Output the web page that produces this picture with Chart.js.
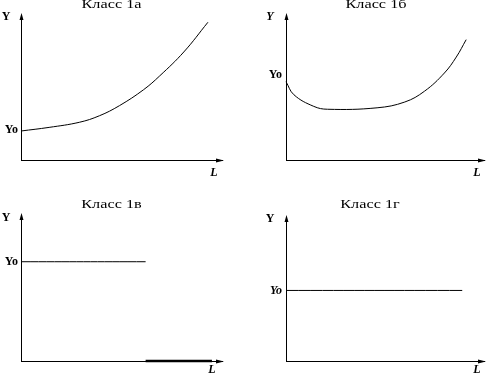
<!DOCTYPE html>
<html>
<head>
<meta charset="utf-8">
<script src="https://cdn.jsdelivr.net/npm/chart.js"></script>
<style>
  body { margin: 0; background: #fff; }
  #wrap { position: relative; width: 488px; height: 377px; }
  #wrap canvas { position: absolute; }
</style>
</head>
<body>
<div id="wrap">
  <canvas id="c1a" width="244" height="188" style="left:0;top:0"></canvas>
  <canvas id="c1b" width="244" height="188" style="left:244px;top:0"></canvas>
  <canvas id="c1v" width="244" height="188" style="left:0;top:188px"></canvas>
  <canvas id="c1g" width="244" height="188" style="left:244px;top:188px"></canvas>
</div>
<script>
// ======== Data (axes 0..100) ========
const titles = ["Класс 1а", "Класс 1б", "Класс 1в", "Класс 1г"];
const axisY = "Y";
const axisX = "L";
const y0Label = "Yo";

const x1a = [0, 14, 29, 39, 49, 61, 69, 81, 93];
const y1a = [20, 22.5, 26, 30.5, 37.5, 48.5, 58, 74.5, 95];

const x1b = [0, 4, 14, 21, 46, 60, 70, 80, 86, 91];
const y1b = [54, 45, 37, 35, 36, 40, 47.5, 60, 71, 83];

const x1v = [0, 62];
const y1v = [68, 68];
const x1vZero = [62, 95];
const y1vZero = [0, 0];

const x1g = [0, 89];
const y1g = [49, 49];

// Y0 level per panel
const y0Values = [21, 59, 68, 49];

const pts = (xs, ys) => xs.map((x, i) => ({ x, y: ys[i] }));

// ======== Arrows + axis labels + title ========
const sketchPlugin = {
  id: "sketch",
  afterDraw(chart, args, o) {
    const { ctx, chartArea: a, scales } = chart;
    ctx.save();
    ctx.fillStyle = "#000";
    // arrow on Y axis
    ctx.beginPath();
    ctx.moveTo(a.left + 0.5, a.top - 2);
    ctx.lineTo(a.left - 1.5, a.top + 5);
    ctx.lineTo(a.left + 2.5, a.top + 5);
    ctx.closePath();
    ctx.fill();
    // arrow on L axis
    ctx.beginPath();
    ctx.moveTo(a.right + 2, a.bottom + 0.5);
    ctx.lineTo(a.right - 6, a.bottom - 1.5);
    ctx.lineTo(a.right - 6, a.bottom + 2.5);
    ctx.closePath();
    ctx.fill();

    ctx.textBaseline = "middle";
    ctx.textAlign = "center";
    ctx.font = (o.yItalic ? "italic " : "") + "bold 12px 'Liberation Serif'";
    ctx.fillText(axisY, a.left + o.yDx, a.top + o.yDy);
    ctx.textAlign = "right";
    ctx.font = (o.y0Italic ? "italic " : "") + "bold 12px 'Liberation Serif'";
    ctx.fillText(y0Label, a.left - o.y0Dx, scales.y.getPixelForValue(o.y0));
    ctx.font = "italic bold 12px 'Liberation Serif'";
    ctx.textAlign = "center";
    ctx.fillText(axisX, a.right + o.lDx, a.bottom + o.lDy);

    // wide serif title
    ctx.font = "13px 'Liberation Serif'";
    ctx.translate((a.left + a.right) / 2 + o.tDx, a.top + o.tDy);
    ctx.scale(1.25, 1);
    ctx.fillText(o.title, 0, 0);
    ctx.restore();
  },
};

function makeChart(id, datasets, pad, labels) {
  const axis = {
    type: "linear",
    min: 0,
    max: 100,
    grid: { display: false, drawTicks: false },
    ticks: { display: false },
    border: { display: true, color: "#000", width: 1 },
  };
  return new Chart(document.getElementById(id), {
    type: "line",
    data: {
      datasets: datasets.map((d) => ({
        data: d.data,
        borderColor: "#000",
        borderWidth: d.width || 1,
        pointRadius: 0,
        tension: 0.4,
        clip: false,
      })),
    },
    options: {
      responsive: false,
      animation: false,
      layout: { padding: pad },
      scales: { x: axis, y: axis },
      plugins: {
        legend: { display: false },
        tooltip: { enabled: false },
        sketch: labels,
      },
    },
    plugins: [sketchPlugin],
  });
}

makeChart("c1a", [{ data: pts(x1a, y1a) }],
  { left: 21, top: 15, right: 22, bottom: 28 },
  { title: titles[0], y0: y0Values[0], yDx: -15, yDy: 2, y0Dx: 3, lDx: -8, lDy: 13, tDx: -10, tDy: -10 });

makeChart("c1b", [{ data: pts(x1b, y1b) }],
  { left: 42, top: 15, right: 4, bottom: 28 },
  { title: titles[1], y0: y0Values[1], yItalic: true, yDx: -16, yDy: 2, y0Dx: 4, lDx: -7, lDy: 13, tDx: -9, tDy: -10 });

makeChart("c1v", [{ data: pts(x1v, y1v) }, { data: pts(x1vZero, y1vZero), width: 2.5 }],
  { left: 21, top: 27, right: 22, bottom: 15 },
  { title: titles[2], y0: y0Values[2], yDx: -15, yDy: 3, y0Dx: 3, lDx: -10, lDy: 9, tDx: -10, tDy: -10 });

makeChart("c1g", [{ data: pts(x1g, y1g) }],
  { left: 42, top: 29, right: 4, bottom: 15 },
  { title: titles[3], y0: y0Values[3], y0Italic: true, yDx: -16, yDy: 2, y0Dx: 4, lDx: -7, lDy: 9, tDx: -15, tDy: -12 });
</script>
</body>
</html>
